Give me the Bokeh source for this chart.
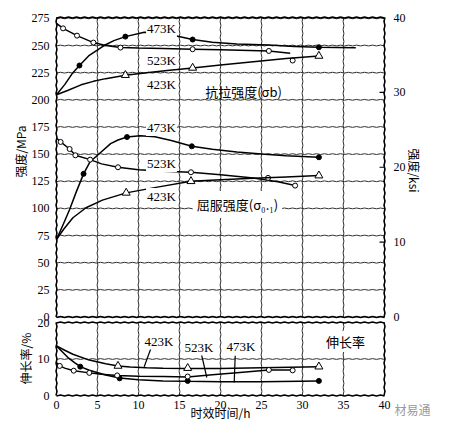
import math
from bokeh.plotting import figure
from bokeh.models import Range1d, Label, ColumnDataSource
from bokeh.core.properties import value
from bokeh.embed import file_html
from bokeh.resources import INLINE

# ---------------- data ----------------
hour_ticks = [0, 5, 10, 15, 20, 25, 30, 35, 40]
mpa_ticks = [0, 25, 50, 75, 100, 125, 150, 175, 200, 225, 250, 275]
ksi_ticks = [0, 10, 20, 30, 40]
elong_ticks = [0, 10, 20]
elong_grid = [10]

# tensile strength (sigma_b), MPa
ts473_h = [0, 1, 2, 2.8, 4, 5.8, 7, 8.4, 10.7, 12.5, 14.5, 16.6, 19, 22, 25.9, 29, 32, 36.5]
ts473_v = [204.6, 214, 225, 231.6, 241, 250, 254.5, 258.2, 262.2, 261.5, 259, 255.5, 253, 251.5, 250.5, 249, 248.4, 248]
ts473_mh = [2.8, 8.4, 16.6, 32]
ts473_mv = [231.6, 258.2, 255.5, 248.4]

ts523_h = [0, 0.8, 2.5, 4.5, 6, 7.8, 10, 13, 16.6, 20, 25.9, 28.5]
ts523_v = [270.4, 265.8, 259.1, 252.7, 250, 248.1, 247.6, 247.2, 246.6, 246, 245, 242.9]
ts523_mh = [0.8, 2.5, 4.5, 7.8, 16.6, 25.9, 28.8]
ts523_mv = [265.8, 259.1, 252.7, 248.1, 246.6, 245, 236.2]

ts423_h = [0, 1.35, 3, 4.5, 6, 8.4, 11, 13.5, 16.6, 20, 24, 28, 32]
ts423_v = [204.6, 208.6, 213.8, 217, 219.5, 222.7, 225, 227, 229.4, 232, 235, 238, 240.4]
ts423_mh = [8.4, 16.6, 32]
ts423_mv = [222.7, 229.4, 240.4]

# yield strength (sigma_0.1), MPa
ys473_h = [0, 0.8, 1.6, 2.4, 3.3, 4.1, 5, 6.6, 7.5, 8.6, 10.2, 12, 14, 16.5, 19, 22, 25, 28, 32]
ys473_v = [71.4, 85, 99, 115, 131.8, 143, 149, 159.6, 163, 165.7, 167, 166, 162.5, 157.2, 154.5, 152, 150, 148.5, 147.1]
ys473_mh = [3.3, 8.6, 16.5, 32]
ys473_mv = [131.8, 165.7, 157.2, 147.1]

ys523_h = [0, 0.5, 1.6, 2.3, 4.1, 5.5, 7.5, 10, 13, 16.4, 20, 24, 27, 29.1]
ys523_v = [164.8, 161.2, 154.7, 148.9, 144.9, 141, 137.9, 135.5, 134.2, 133.3, 131, 128, 124.5, 121]
ys523_mh = [0.5, 1.6, 2.3, 4.1, 7.5, 16.4, 25.8, 29.1]
ys523_mv = [161.2, 154.7, 148.9, 144.9, 137.9, 133.3, 128.1, 121]

ys423_h = [0, 0.85, 2, 3.6, 5.6, 8.5, 12.3, 16.4, 20, 24, 28, 32]
ys423_v = [71.4, 80.6, 91.4, 100.6, 107.6, 114.3, 119.6, 125, 126.5, 127.8, 129, 130.2]
ys423_mh = [8.5, 16.4, 32]
ys423_mv = [114.3, 125, 130.2]

# elongation, %
el423_h = [0, 1, 2, 4, 6, 7.5, 9, 11, 13, 16, 20, 25, 32]
el423_v = [13.6, 12.4, 11.3, 9.7, 8.7, 8.1, 7.8, 7.6, 7.45, 7.4, 7.4, 7.6, 7.9]
el423_mh = [7.5, 16, 32]
el423_mv = [8.1, 7.5, 7.9]

el473_h = [0, 0.7, 1.4, 2.2, 2.9, 4, 6, 7.7, 10, 13, 16, 20, 25, 32]
el473_v = [13.6, 12, 10.4, 9, 7.9, 6.9, 5.6, 4.8, 4.3, 4.0, 3.9, 3.8, 3.8, 4.0]
el473_mh = [2.9, 7.7, 16, 32]
el473_mv = [7.9, 4.7, 4.0, 4.0]

el523_h = [0, 0.4, 1, 2.1, 4, 5.5, 7.4, 10, 13, 16, 19, 22, 25.9, 28.8]
el523_v = [9.0, 8.1, 7.5, 6.8, 6.2, 5.8, 5.5, 5.3, 5.2, 5.1, 5.7, 6.25, 7.0, 7.0]
el523_mh = [0.4, 2.1, 4.0, 7.4, 16, 25.9, 28.8]
el523_mv = [8.1, 6.8, 6.2, 5.5, 5.2, 7.0, 6.9]

MPA_PER_KSI = 6.895

# ---------------- layout (canvas pixels) ----------------
CW, CH = 437, 423
PX_L, PX_R = 56, 384          # where 0 h and 40 h fall
TOP_T, TOP_B = 17, 316.5      # strength panel
BOT_T, BOT_B = 322, 395       # elongation panel
H_MAX = hour_ticks[-1]
MPA_MAX = ksi_ticks[-1] * MPA_PER_KSI
PCT_MAX = elong_ticks[-1]

sx = (PX_R - PX_L) / H_MAX
sm = (TOP_B - TOP_T) / MPA_MAX
sp = (BOT_B - BOT_T) / PCT_MAX
UNIT = {"default": 1 / sm, "pct": 1 / sp, "ksi": 1 / sm / MPA_PER_KSI}   # one pixel in data units


def hx(cx):
    return (cx - PX_L) / sx


def my(cy):
    return (TOP_B - cy) / sm


def py(cy):
    return (BOT_B - cy) / sp


SERIF = "Liberation Serif"
CJK = "Noto Sans CJK SC"
GRID = "#303030"

p = figure(width=CW, height=CH, output_backend="svg", toolbar_location=None,
           x_range=Range1d(hx(0), hx(CW)), y_range=Range1d(my(CH), my(0)),
           x_axis_location=None, y_axis_location=None, min_border=0,
           outline_line_color=None, background_fill_color="white", border_fill_color="white")
p.extra_y_ranges = {"pct": Range1d(py(CH), py(0)),
                    "ksi": Range1d(my(CH) / MPA_PER_KSI, my(0) / MPA_PER_KSI)}
p.grid.visible = False


# straight rules (grid, frames, ticks) drawn as polylines with a fine sub-pixel zig-zag
def rule(x0, y0, x1, y1, color=GRID, width=1.0, rng="default"):
    length_px = abs(x1 - x0) * sx + abs(y1 - y0) / UNIT[rng]
    steps = max(1, int(round(length_px / 4)))
    xs, ys = [], []
    for i in range(steps + 1):
        f = i / steps
        off = 0.4 * (1 if i % 2 else -1) if steps > 1 else 0
        xx = x0 + (x1 - x0) * f
        yy = y0 + (y1 - y0) * f
        if x0 == x1:
            xx += off / sx
        else:
            yy += off * UNIT[rng]
        xs.append(xx)
        ys.append(yy)
    p.line(xs, ys, line_color=color, line_width=width, y_range_name=rng)


for t in hour_ticks:
    rule(t, 0, t, MPA_MAX)
    rule(t, 0, t, PCT_MAX, rng="pct")
for t in mpa_ticks:
    rule(0, t, H_MAX, t)
for t in elong_grid:
    rule(0, t, H_MAX, t, rng="pct")
for rng, top in (("default", MPA_MAX), ("pct", PCT_MAX)):
    rule(0, 0, H_MAX, 0, "black", 1.5, rng)
    rule(0, top, H_MAX, top, "black", 1.5, rng)
    rule(0, 0, 0, top, "black", 1.5, rng)
    rule(H_MAX, 0, H_MAX, top, "black", 1.5, rng)
for t in ksi_ticks[1:-1]:
    rule(H_MAX - 5 / sx, t, H_MAX, t, "black", 1.2, rng="ksi")


# ---- tick labels ----
def ticklabels(xs, ys, texts, align, rng="default", size="12px"):
    src = ColumnDataSource(dict(x=xs, y=ys, t=texts))
    p.text(x="x", y="y", text="t", source=src, text_font=value(SERIF), text_font_size=size,
           text_align=align, text_baseline="middle", text_color="black", y_range_name=rng)


m, n, k = len(mpa_ticks), len(hour_ticks), len(ksi_ticks)
ticklabels([hx(PX_L - 7)] * m, mpa_ticks, [str(t) for t in mpa_ticks], "right")
ticklabels([hx(PX_R + 9)] * k, ksi_ticks, [str(t) for t in ksi_ticks], "left", rng="ksi")
ticklabels([hx(PX_L - 7)] * len(elong_ticks), elong_ticks, [str(t) for t in elong_ticks], "right", rng="pct")
ticklabels(hour_ticks, [py(BOT_B + 9)] * n, [str(t) for t in hour_ticks], "center", rng="pct")


# ---- data series ----
def series(xs, ys, mx, my_, kind, rng="default"):
    p.line(xs, ys, line_color="black", line_width=1.5, y_range_name=rng)
    if kind == "filled":
        p.scatter(mx, my_, marker="circle", size=5, fill_color="black", line_color="black", y_range_name=rng)
    elif kind == "open":
        p.scatter(mx, my_, marker="circle", size=5, fill_color="white", line_color="black", line_width=1,
                  y_range_name=rng)
    else:
        p.scatter(mx, my_, marker="triangle", size=8, fill_color="white", line_color="black", line_width=1,
                  y_range_name=rng)


series(ts473_h, ts473_v, ts473_mh, ts473_mv, "filled")
series(ts523_h, ts523_v, ts523_mh, ts523_mv, "open")
series(ts423_h, ts423_v, ts423_mh, ts423_mv, "tri")
series(ys473_h, ys473_v, ys473_mh, ys473_mv, "filled")
series(ys523_h, ys523_v, ys523_mh, ys523_mv, "open")
series(ys423_h, ys423_v, ys423_mh, ys423_mv, "tri")
series(el423_h, el423_v, el423_mh, el423_mv, "tri", rng="pct")
series(el473_h, el473_v, el473_mh, el473_mv, "filled", rng="pct")
series(el523_h, el523_v, el523_mh, el523_mv, "open", rng="pct")

# leader lines from the temperature labels in the elongation panel
for (ax, ay, bx, by) in [(151, 346.3, 143.7, 366.3), (200.3, 351, 206.3, 377), (234.7, 355.3, 233.7, 382)]:
    p.line([hx(ax), hx(bx)], [py(ay), py(by)], line_color="black", line_width=1.2, y_range_name="pct")


# ---- annotations ----
def lab(cx, cy, text, font=SERIF, size="13px", bg=None, angle=0, color="black", pad=1):
    kw = dict(x=hx(cx), y=my(cy), text=text, text_font=font, text_font_size=size,
              text_align="center", text_baseline="middle", angle=angle, text_color=color)
    if bg:
        kw["background_fill_color"] = bg
        kw["padding"] = pad
    p.add_layout(Label(**kw))


lab(161, 28, "473K", bg="white")
lab(161, 59.5, "523K", bg="white")
lab(161, 84.3, "423K", bg="white")
lab(243, 91, "抗拉强度(σb)", font=CJK)
lab(161, 127, "473K", bg="white")
lab(161, 163, "523K", bg="white")
lab(161, 196, "423K", bg="white")
lab(237, 204, "屈服强度(σ₀.₁)", font=CJK, bg="white", pad=4)
lab(158.5, 340.5, "423K", bg="white")
lab(198.5, 346.5, "523K", bg="white")
lab(240.5, 346, "473K", bg="white")
lab(345, 341, "伸长率", font=CJK, bg="white")

lab(20, 151, "强度/MPa", font=CJK, size="12px", angle=math.pi / 2)
lab(414, 170, "强度/ksi", font=CJK, size="12px", angle=-math.pi / 2)
lab(25, 358, "伸长率/%", font=CJK, size="12px", angle=math.pi / 2)
lab(220, 412, "时效时间/h", font=CJK, size="12px")
lab(412, 409, "材易通", font=CJK, size="12px", color="#9a9a9a")

open("out.html", "w").write(file_html(p, INLINE))
